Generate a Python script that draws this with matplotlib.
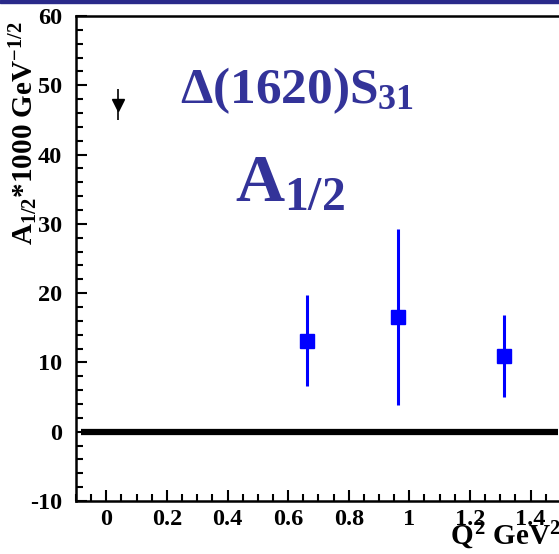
import matplotlib
matplotlib.use("Agg")
import matplotlib.pyplot as plt
from matplotlib.ticker import MultipleLocator
from matplotlib.patches import Rectangle

# data
q2_tri = [0.04]
a12_tri = [47.2]
err_tri = [2.2]

q2_sq = [0.663, 0.964, 1.313]
a12_sq = [13.1, 16.6, 11.0]
err_lo = [6.5, 12.8, 6.0]
err_hi = [6.6, 12.7, 5.9]

zero_x = [-0.085, 1.49]
x_ticks = [0, 0.2, 0.4, 0.6, 0.8, 1, 1.2, 1.4]
x_labels = ["0", "0.2", "0.4", "0.6", "0.8", "1", "1.2", "1.4"]
y_ticks = [-10, 0, 10, 20, 30, 40, 50, 60]

navy = "#333399"

plt.rcParams["font.family"] = ["Liberation Serif", "DejaVu Serif"]
plt.rcParams["font.weight"] = "bold"
plt.rcParams["axes.unicode_minus"] = False
plt.rcParams["mathtext.fontset"] = "custom"
plt.rcParams["mathtext.rm"] = "Liberation Serif:bold"
plt.rcParams["mathtext.it"] = "Liberation Serif:bold"
plt.rcParams["mathtext.bf"] = "Liberation Serif:bold"

W, H = 559, 554
fig = plt.figure(figsize=(W / 100, H / 100), dpi=100)
ax = fig.add_axes([76 / W, (H - 501) / H, (1.6 * 303) / W, 485 / H])

ax.errorbar(q2_sq, a12_sq, yerr=[err_lo, err_hi], fmt="s", color="#0000ff",
            ms=10.5, elinewidth=2.2, capsize=0, zorder=3)
ax.errorbar(q2_tri, a12_tri, yerr=err_tri, fmt="v", color="black",
            ms=9, elinewidth=1.2, capsize=0, zorder=3)
ax.plot(zero_x, [0, 0], color="black", lw=4.5, solid_capstyle="butt")

ax.set_xlim(-0.1, 1.5)
ax.set_ylim(-10, 60)
ax.set_xticks(x_ticks)
ax.set_xticklabels(x_labels)
ax.set_yticks(y_ticks)
ax.xaxis.set_minor_locator(MultipleLocator(0.05))
ax.yaxis.set_minor_locator(MultipleLocator(2))
ax.tick_params(which="both", direction="in", width=1.5, top=False, right=False)
ax.tick_params(which="major", length=8, labelsize=17.5)
ax.tick_params(axis="x", which="major", pad=6)
ax.tick_params(axis="y", which="major", pad=10)
ax.tick_params(which="minor", length=5)
for s in ax.spines.values():
    s.set_linewidth(1.8)

# texts inside the plot
fig.text(180 / W, (H - 103) / H, r"$\Delta(1620)S_{31}$", color=navy,
         fontsize=37, ha="left", va="baseline")
fig.text(235 / W, (H - 200) / H, r"$A_{1/2}$", color=navy,
         fontsize=49, ha="left", va="baseline")

# axis labels (cut by the figure edge as in the reference)
fig.text(33 / W, (H - 245) / H, r"$A_{1/2}$*1000 GeV$^{-1/2}$", fontsize=21,
         rotation=90, rotation_mode="anchor", ha="left", va="baseline")
fig.text(450 / W, (H - 545) / H, r"$Q^2$ GeV$^2$", fontsize=21,
         ha="left", va="baseline")

# navy bar along the top edge
fig.patches.append(Rectangle((0, 1 - 3 / H), 1, 3 / H, transform=fig.transFigure,
                             color="#2a2a8a", zorder=0))

fig.savefig("out.png", dpi=100)
